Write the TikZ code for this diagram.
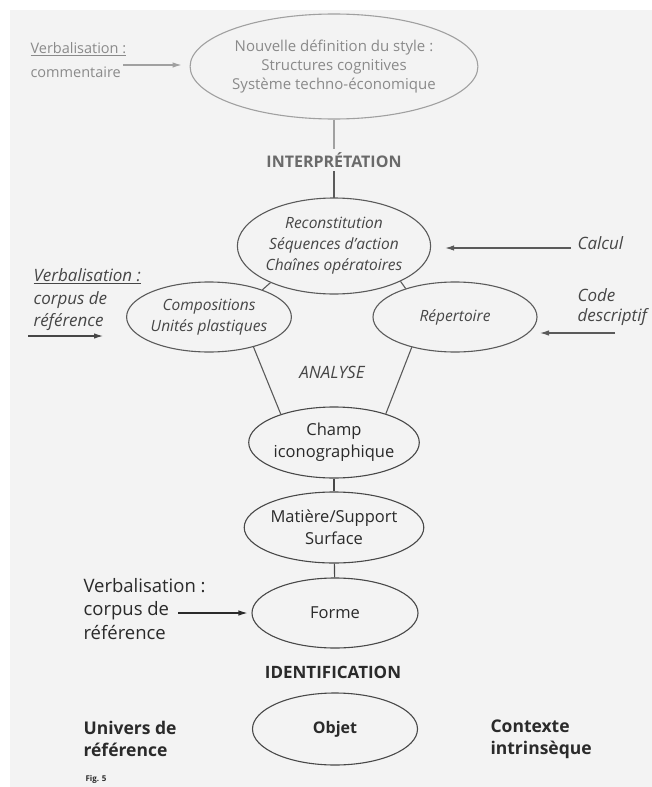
\documentclass[tikz,border=0pt]{standalone}
\usepackage{fontspec}
\setmainfont{Open Sans}
\usetikzlibrary{shapes.geometric,arrows.meta}
\definecolor{bgc}{HTML}{F3F3F3}
\definecolor{topc}{HTML}{8A8A8A}
\definecolor{topl}{HTML}{A0A0A0}
\definecolor{interpc}{HTML}{6A6A6A}
\definecolor{midc}{HTML}{464646}
\definecolor{midl}{HTML}{5A5A5A}
\definecolor{botc}{HTML}{2A2A2A}
\definecolor{botl}{HTML}{484848}
\newcommand\fsz[2]{\fontsize{#1}{#2}\selectfont}
\begin{document}
\begin{tikzpicture}[x=1pt,y=-1pt,line width=1.1pt,
  ell/.style={ellipse,draw,inner sep=0pt,align=center},
  lbl/.style={inner sep=0pt,align=left,anchor=west},
  arr/.style={-{Latex[length=9pt,width=5.5pt]}}]
\useasboundingbox (0,0) rectangle (652,787);
\fill[white] (0,0) rectangle (652,787);
\fill[bgc] (10,10) rectangle (652,787);

% top
\node[ell,draw=topl,text=topc,minimum width=254pt,minimum height=105pt,font=\fsz{15}{19}] (nds) at (334,66.5)
  {Nouvelle définition du style :\\Structures cognitives\\Système techno-économique};
\node[lbl,text=topc,font=\fsz{14.5}{24}] (comment) at (30,60) {\underline{Verbalisation :}\\commentaire};
\coordinate (cA) at (123,65);
\draw[arr,topl,shorten >=8pt] (cA) -- (nds.west |- cA);

\node[font=\bfseries\fsz{16}{19},text=interpc] (interp) at (334,160) {INTERPRÉTATION};
\draw[topl] (nds.south) -- (interp.north);
\draw[midl] (interp.south) -- (334,198);

% middle
\node[ell,draw=midl,text=midc,minimum width=190pt,minimum height=96pt,font=\itshape\fsz{15.5}{21}] (rec) at (334,246)
  {Reconstitution\\Séquences d'action\\Chaînes opératoires};
\node[ell,draw=midl,text=midc,minimum width=162pt,minimum height=70pt,font=\itshape\fsz{15.5}{21}] (comp) at (209,317)
  {Compositions\\Unités plastiques};
\node[ell,draw=midl,text=midc,minimum width=164pt,minimum height=70pt,font=\itshape\fsz{15.5}{21}] (rep) at (455,317)
  {Répertoire};
\node[text=midc,font=\itshape\fsz{17}{20}] (analyse) at (332,372) {ANALYSE};

\node[lbl,text=midc,font=\itshape\fsz{17}{20}] (calcul) at (577,243) {Calcul};
\coordinate (calA) at (571,248);
\draw[arr,midl,shorten >=14pt] (calA) -- (rec.east |- calA);

\node[lbl,text=midc,font=\itshape\fsz{17}{20}] (code) at (577,307) {Code\\descriptif};
\coordinate (codA) at (615,333);
\coordinate (codB) at (540,333);
\draw[arr,midl] (codA) -- (codB);

\node[lbl,text=midc,font=\itshape\fsz{17}{22.5}] (lverb) at (33,300) {\underline{Verbalisation :}\\corpus de\\référence};
\coordinate (lvA) at (28,336);
\coordinate (lvB) at (103,336);
\draw[arr,midc] (lvA) -- (lvB);

\draw[midl] (rec.210) -- (comp.27);
\draw[midl] (rec.-28) -- (rep.150);

% bottom
\node[ell,draw=botl,text=botc,minimum width=164pt,minimum height=71pt,font=\fsz{16.5}{22}] (champ) at (334,442.5)
  {Champ\\iconographique};
\node[ell,draw=botl,text=botc,minimum width=164pt,minimum height=71pt,font=\fsz{16.5}{22}] (mat) at (334,527.5)
  {Matière/Support\\Surface};
\node[ell,draw=botl,text=botc,minimum width=166pt,minimum height=70pt,font=\fsz{16.5}{22}] (forme) at (335,613)
  {Forme};
\node[font=\bfseries\fsz{17}{20},text=botc] (ident) at (333,672) {IDENTIFICATION};
\node[ell,draw=botl,text=botc,minimum width=165pt,minimum height=72pt,font=\bfseries\fsz{16}{20}] (objet) at (335,729)
  {Objet};

\draw[midl] (comp.-34) -- (champ.152);
\draw[midl] (rep.215) -- (champ.29);
\draw[botl] (champ) -- (mat);
\draw[botl] (mat) -- (forme);

\node[lbl,text=botc,font=\fsz{18.5}{23.5}] (bverb) at (83,609) {Verbalisation :\\corpus de\\référence};
\coordinate (bvA) at (178,613);
\draw[arr,botc,shorten >=4pt] (bvA) -- (forme.west);

\node[lbl,text=botc,font=\bfseries\fsz{17.5}{22}] (univers) at (83,739) {Univers de\\référence};
\node[lbl,text=botc,font=\bfseries\fsz{17.5}{22}] (contexte) at (490,739) {Contexte\\intrinsèque};
\node[lbl,text=botc,font=\bfseries\fsz{8}{9}] (fig) at (85,779.5) {Fig. 5};
\end{tikzpicture}
\end{document}
